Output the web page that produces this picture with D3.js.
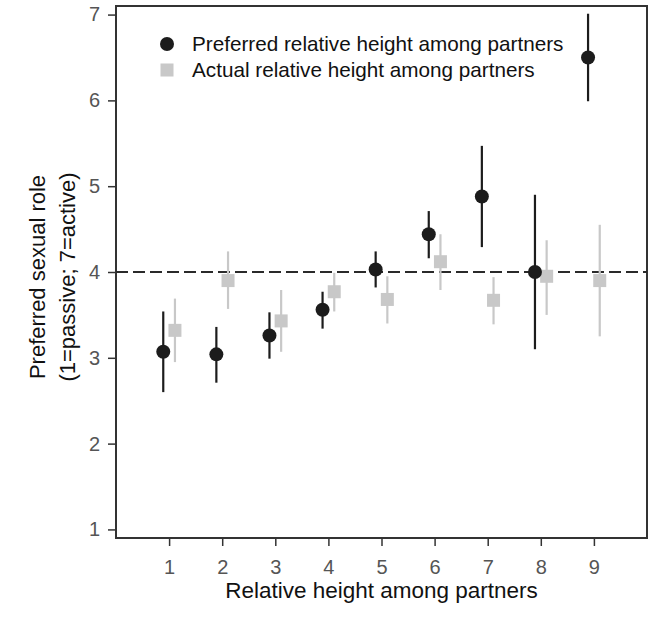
<!DOCTYPE html>
<html>
<head>
<meta charset="utf-8">
<script src="https://cdn.jsdelivr.net/npm/d3@7"></script>
<style>
  body { margin: 0; background: #fff; }
  svg, svg text { font-family: "Liberation Sans", Arial, sans-serif; }
</style>
</head>
<body>
<div id="chart"></div>
<script>
// relative height categories
const heights = [1, 2, 3, 4, 5, 6, 7, 8, 9];

// preferred relative height (black circles): mean, lower, upper
const prefMean = [3.07, 3.04, 3.26, 3.56, 4.03, 4.44, 4.88, 4.00, 6.50];
const prefLow  = [2.60, 2.71, 2.99, 3.34, 3.82, 4.16, 4.29, 3.10, 5.99];
const prefHigh = [3.54, 3.36, 3.53, 3.77, 4.24, 4.71, 5.47, 4.90, 7.01];

// actual relative height (grey squares): mean, lower, upper
const actMean = [3.32, 3.90, 3.43, 3.77, 3.68, 4.12, 3.67, 3.95, 3.90];
const actLow  = [2.95, 3.57, 3.07, 3.54, 3.40, 3.79, 3.39, 3.50, 3.25];
const actHigh = [3.69, 4.24, 3.79, 3.99, 3.95, 4.44, 3.94, 4.37, 4.55];

const yTicks = [1, 2, 3, 4, 5, 6, 7];
const refLine = 4;
const legendLabels = ["Preferred relative height among partners", "Actual relative height among partners"];

const width = 654, height = 637;
const margin = { top: 6, right: 7, bottom: 99, left: 116 };
const font = '"Liberation Sans", Arial, sans-serif';

const svg = d3.select('#chart').append('svg')
  .attr('width', width)
  .attr('height', height);

const x = d3.scaleLinear().domain([0, 10]).range([margin.left, width - margin.right]);
const y = d3.scaleLinear().domain([0.9, 7.1]).range([height - margin.bottom, margin.top]);

const dark = '#1c1c1c';
const grey = '#c8c8c8';
const offset = 0.11;

// axes
const xAxis = svg.append('g')
  .attr('transform', `translate(0,${height - margin.bottom})`)
  .call(d3.axisBottom(x).tickValues(heights).tickSize(8).tickPadding(14).tickFormat(d3.format('d')));

const yAxis = svg.append('g')
  .attr('transform', `translate(${margin.left},0)`)
  .call(d3.axisLeft(y).tickValues(yTicks).tickSize(8).tickPadding(8).tickFormat(d3.format('d')));

[xAxis, yAxis].forEach(g => {
  g.attr('font-family', font).attr('font-size', 20);
  g.select('.domain').remove();
  g.selectAll('line').attr('stroke', '#333').attr('stroke-width', 1.5);
  g.selectAll('text').attr('fill', '#555');
});

// frame
svg.append('rect')
  .attr('x', x(0)).attr('y', y(7.1))
  .attr('width', x(10) - x(0)).attr('height', y(0.9) - y(7.1))
  .attr('fill', 'none').attr('stroke', '#333').attr('stroke-width', 2);

// dashed reference line
svg.append('line')
  .attr('x1', x(0)).attr('x2', x(10))
  .attr('y1', y(refLine)).attr('y2', y(refLine))
  .attr('stroke', '#2a2a2a').attr('stroke-width', 2)
  .attr('stroke-dasharray', '12,5');

// actual (grey) error bars and squares
const act = heights.map((h, i) => ({ h, m: actMean[i], lo: actLow[i], hi: actHigh[i] }));
svg.append('g').selectAll('line').data(act).join('line')
  .attr('x1', d => x(d.h + offset)).attr('x2', d => x(d.h + offset))
  .attr('y1', d => y(d.lo)).attr('y2', d => y(d.hi))
  .attr('stroke', grey).attr('stroke-width', 2.2);
svg.append('g').selectAll('rect').data(act).join('rect')
  .attr('x', d => x(d.h + offset) - 6.5).attr('y', d => y(d.m) - 6.5)
  .attr('width', 13).attr('height', 13)
  .attr('fill', grey);

// preferred (black) error bars and circles
const pref = heights.map((h, i) => ({ h, m: prefMean[i], lo: prefLow[i], hi: prefHigh[i] }));
svg.append('g').selectAll('line').data(pref).join('line')
  .attr('x1', d => x(d.h - offset)).attr('x2', d => x(d.h - offset))
  .attr('y1', d => y(d.lo)).attr('y2', d => y(d.hi))
  .attr('stroke', dark).attr('stroke-width', 2.2);
svg.append('g').selectAll('circle').data(pref).join('circle')
  .attr('cx', d => x(d.h - offset)).attr('cy', d => y(d.m))
  .attr('r', 7)
  .attr('fill', dark);

// legend
const legend = svg.append('g').attr('transform', 'translate(167,44)');
legend.append('circle').attr('cx', 0).attr('cy', 0).attr('r', 7).attr('fill', dark);
legend.append('rect').attr('x', -6.5).attr('y', 26 - 6.5).attr('width', 13).attr('height', 13).attr('fill', grey);
legend.selectAll('text').data(legendLabels).join('text')
  .attr('x', 25).attr('y', (d, i) => i * 26 + 7)
  .attr('fill', '#111')
  .style('font-size', '20.7px')
  .text(d => d);

// axis titles
svg.append('text')
  .attr('x', x(5)).attr('y', 598)
  .attr('text-anchor', 'middle')
  .attr('fill', '#111')
  .style('font-size', '22.5px')
  .text('Relative height among partners');

const yTitle = svg.append('text')
  .attr('transform', 'translate(0,277) rotate(-90)')
  .attr('text-anchor', 'middle')
  .attr('fill', '#111')
  .style('font-size', '22px');
yTitle.append('tspan').attr('x', 0).attr('y', 45).text('Preferred sexual role');
yTitle.append('tspan').attr('x', 0).attr('y', 75).text('(1=passive; 7=active)');
</script>
</body>
</html>
